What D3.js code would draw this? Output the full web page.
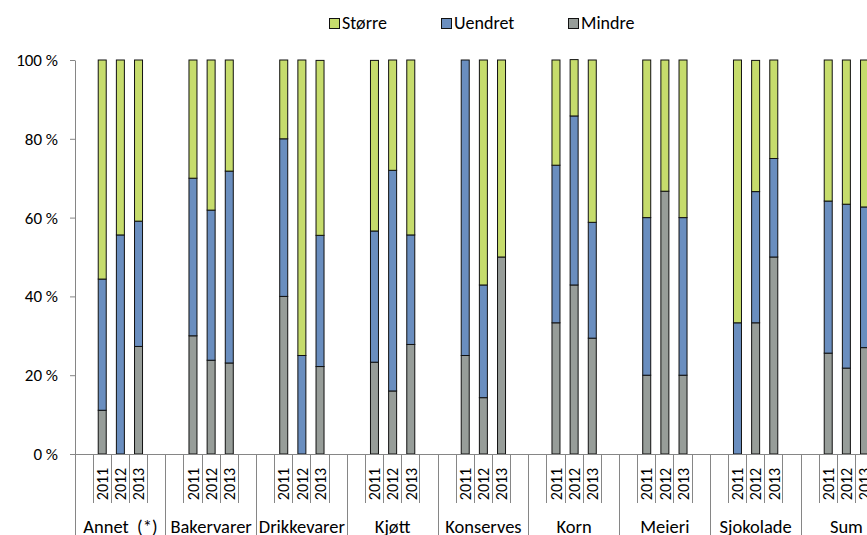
<!DOCTYPE html>
<html>
<head>
<meta charset="utf-8">
<script src="https://cdn.jsdelivr.net/npm/d3@7"></script>
<style>
  html, body { margin: 0; padding: 0; background: #fff; overflow: hidden; }
  svg { display: block; }
  text { font-family: Carlito, Calibri, Lato, "Open Sans", sans-serif; fill: #000; }
</style>
</head>
<body>
<svg id="chart" width="867" height="535"></svg>
<script>
const groups = ["Annet  (*)", "Bakervarer", "Drikkevarer", "Kjøtt", "Konserves", "Korn", "Meieri", "Sjokolade", "Sum"];
const years = ["2011", "2012", "2013"];
const seriesNames = ["Større", "Uendret", "Mindre"];
const mindre  = [11.1, 0, 27.3,  30, 23.8, 23.1,  40, 0, 22.2,  23.3, 16, 27.8,  25, 14.3, 50,  33.3, 42.9, 29.4,  20, 66.7, 20,  0, 33.3, 50,  25.6, 21.8, 27.0];
const uendret = [33.3, 55.6, 31.8,  40, 38.1, 48.7,  40, 25, 33.3,  33.3, 56, 27.8,  75, 28.6, 0,  40, 42.9, 29.4,  40, 0, 40,  33.3, 33.3, 25,  38.6, 41.6, 35.7];
const storre  = [55.6, 44.4, 40.9,  30, 38.1, 28.2,  20, 75, 44.4,  43.3, 28, 44.4,  0, 57.1, 50,  26.7, 14.3, 41.2,  40, 33.3, 40,  66.7, 33.3, 25,  35.8, 36.6, 37.3];
const yTicks = [0, 20, 40, 60, 80, 100];
const colors = { "Større": "#c6dc6c", "Uendret": "#6a8ebf", "Mindre": "#979d99" };

const svg = d3.select("#chart");
const plotLeft = 75, plotTop = 60, plotBottom = 454, slotW = 18.15;

// slots: blank, 2011, 2012, 2013, blank per group
const slots = [];
groups.forEach((g, gi) => {
  slots.push(gi + "|b0");
  years.forEach(y => slots.push(gi + "|" + y));
  slots.push(gi + "|b1");
});
const x = d3.scaleBand().domain(slots).range([plotLeft, plotLeft + slots.length * slotW]).padding(0);
const y = d3.scaleLinear().domain([0, 100]).range([plotBottom, plotTop]);

const rows = [];
groups.forEach((g, gi) => years.forEach((yr, yi) => {
  const i = gi * 3 + yi;
  rows.push({ key: gi + "|" + yr, "Mindre": mindre[i], "Uendret": uendret[i], "Større": storre[i] });
}));
const stack = d3.stack().keys(["Mindre", "Uendret", "Større"]);
const stacked = stack(rows);

const barW = 8;
const bars = svg.append("g");
stacked.forEach(layer => {
  bars.selectAll(null).data(layer.filter(d => d[1] - d[0] > 0)).enter().append("rect")
    .attr("x", d => x(d.data.key) + x.bandwidth() / 2 - barW / 2)
    .attr("y", d => y(d[1]))
    .attr("width", barW)
    .attr("height", d => y(d[0]) - y(d[1]))
    .attr("fill", colors[layer.key])
    .attr("stroke", "#111")
    .attr("stroke-width", 1);
});

// Y axis
const yAxis = d3.axisLeft(y).tickValues(yTicks).tickFormat(d => d + " %").tickSize(5).tickSizeOuter(0).tickPadding(12);
const ya = svg.append("g").attr("transform", `translate(${plotLeft},0)`).call(yAxis);
ya.select(".domain").attr("stroke", "#868686");
ya.selectAll(".tick line").attr("stroke", "#868686");
ya.selectAll(".tick text").style("font-size", "17px").style("white-space", "pre").attr("fill", "#000");

// X axis line
const xEnd = plotLeft + slots.length * slotW;
const xa = svg.append("g").attr("stroke", "#868686").attr("stroke-width", 1);
xa.append("line").attr("x1", plotLeft).attr("x2", xEnd).attr("y1", plotBottom + 0.5).attr("y2", plotBottom + 0.5);
slots.forEach(s => {
  xa.append("line").attr("x1", x(s)).attr("x2", x(s)).attr("y1", plotBottom).attr("y2", plotBottom + 5);
});
groups.forEach((g, gi) => {
  const x0 = x(gi + "|b0");
  xa.append("line").attr("x1", x0).attr("x2", x0).attr("y1", plotBottom).attr("y2", 535);
  const ys = years.map(yr => x(gi + "|" + yr));
  ys.concat([x(gi + "|b1")]).forEach(xx => {
    xa.append("line").attr("x1", xx).attr("x2", xx).attr("y1", plotBottom).attr("y2", 503);
  });
});
xa.selectAll("line").attr("shape-rendering", "crispEdges");

// Year labels
const yl = svg.append("g");
groups.forEach((g, gi) => years.forEach(yr => {
  const cx = x(gi + "|" + yr) + x.bandwidth() / 2;
  yl.append("text")
    .attr("transform", `translate(${cx},484) rotate(-90)`)
    .attr("text-anchor", "middle")
    .attr("dy", "0.36em")
    .style("font-size", "16px")
    .text(yr);
}));

// Group labels
const gl = svg.append("g");
groups.forEach((g, gi) => {
  const cx = x(gi + "|2012") + x.bandwidth() / 2;
  gl.append("text")
    .attr("x", cx).attr("y", 533)
    .attr("text-anchor", "middle")
    .style("font-size", "18.5px")
    .style("white-space", "pre")
    .text(g);
});

// Legend
const legendX = [329, 441, 568];
const lg = svg.append("g");
seriesNames.forEach((s, i) => {
  lg.append("rect").attr("x", legendX[i] + 0.5).attr("y", 18.5).attr("width", 10).attr("height", 10)
    .attr("fill", colors[s]).attr("stroke", "#111").attr("stroke-width", 1);
  lg.append("text").attr("x", legendX[i] + 13).attr("y", 28.7).style("font-size", "18px").text(s);
});
</script>
</body>
</html>
